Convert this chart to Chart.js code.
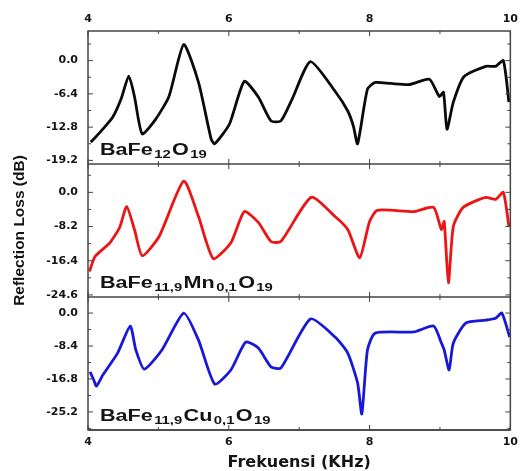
<!DOCTYPE html>
<html>
<head>
<meta charset="utf-8">
<script src="https://cdn.jsdelivr.net/npm/chart.js@4.4.1/dist/chart.umd.min.js"></script>
<style>
  html, body { margin: 0; padding: 0; background: #fff; }
  #wrap { position: relative; width: 524px; height: 471px; }
</style>
</head>
<body>
<div id="wrap"><canvas id="rlChart"></canvas></div>
<script>
// ====== Data ======
const freqTicks = [4, 6, 8, 10];

// BaFe12O19 (black, top panel)
const freqBa = [4.04, 4.17, 4.35, 4.47, 4.58, 4.66, 4.77, 4.96, 5.15, 5.36, 5.57, 5.75, 5.80, 6.01, 6.22, 6.42,
                6.60, 6.74, 6.90, 7.16, 7.51, 7.69, 7.77, 7.83, 7.97, 8.08, 8.30, 8.57, 8.85, 8.99, 9.05, 9.10,
                9.19, 9.34, 9.65, 9.79, 9.90, 9.98];
const rlBa = [-15.7, -13.8, -10.9, -7.4, -3.0, -6.9, -14.1, -11.3, -6.9, 3.1, -4.2, -15.1, -16.0, -12.2, -4.0, -7.0,
              -11.6, -11.6, -7.4, -0.2, -5.9, -9.7, -12.6, -16.0, -5.5, -4.2, -4.4, -4.6, -3.6, -6.9, -6.1, -13.2,
              -8.0, -3.1, -1.1, -1.1, 0.0, -8.0];
const rlTicksBa = [0.0, -6.4, -12.8, -19.2];

// BaFe11,9Mn0,1O19 (red, middle panel)
const freqMn = [4.02, 4.10, 4.31, 4.45, 4.55, 4.66, 4.77, 5.01, 5.36, 5.57, 5.78, 6.03, 6.22, 6.42, 6.60, 6.74,
                7.17, 7.51, 7.69, 7.86, 8.00, 8.11, 8.63, 8.91, 9.02, 9.06, 9.12, 9.19, 9.33, 9.65, 9.79, 9.90, 9.98];
const rlMn = [-19.0, -15.4, -12.1, -8.4, -3.4, -8.9, -15.2, -10.6, 2.7, -5.8, -15.9, -12.1, -4.6, -7.2, -11.8, -11.8,
              -1.2, -5.8, -8.9, -15.7, -7.0, -4.3, -4.6, -3.6, -8.9, -7.0, -21.7, -8.2, -3.6, -1.2, -1.7, 0.0, -8.2];
const rlTicksMn = [0.0, -8.2, -16.4, -24.6];

// BaFe11,9Cu0,1O19 (blue, bottom panel)
const freqCu = [4.03, 4.08, 4.12, 4.21, 4.42, 4.60, 4.68, 4.80, 5.05, 5.36, 5.57, 5.80, 6.03, 6.24, 6.42, 6.60,
                6.74, 7.16, 7.51, 7.69, 7.83, 7.89, 7.97, 8.08, 8.63, 8.91, 9.02, 9.06, 9.13, 9.19, 9.37, 9.65,
                9.79, 9.88, 9.99];
const rlCu = [-15.0, -17.0, -18.6, -15.8, -10.2, -3.3, -9.4, -14.3, -9.4, 0.0, -6.9, -18.1, -14.5, -7.4, -8.9, -13.7,
              -14.0, -1.5, -6.1, -10.2, -17.8, -25.7, -9.4, -5.1, -4.8, -3.3, -7.6, -9.4, -14.5, -7.6, -2.5, -1.8,
              -1.3, 0.0, -6.1];
const rlTicksCu = [0.0, -8.4, -16.8, -25.2];

// sample labels: [text, isSubscript]
const labelBa = [['BaFe', 0], ['12', 1], ['O', 0], ['19', 1]];
const labelMn = [['BaFe', 0], ['11,9', 1], ['Mn', 0], ['0,1', 1], ['O', 0], ['19', 1]];
const labelCu = [['BaFe', 0], ['11,9', 1], ['Cu', 0], ['0,1', 1], ['O', 0], ['19', 1]];

const panels = [
    { axis: 'yBa', ticks: rlTicksBa, label: labelBa },
    { axis: 'yMn', ticks: rlTicksMn, label: labelMn },
    { axis: 'yCu', ticks: rlTicksCu, label: labelCu }
];

const TXT = '#141414';
const FRAME = '#444';
const tickFont = { family: '"DejaVu Sans", sans-serif', size: 11, weight: 'bold' };

function toPoints(xs, ys) {
    return xs.map((x, i) => ({ x, y: ys[i] }));
}

// ====== Frame, inward ticks and sample labels ======
function drawFormula(ctx, parts, x, y) {
    ctx.save();
    ctx.translate(x, y);
    ctx.scale(1.35, 1);
    ctx.fillStyle = TXT;
    ctx.textBaseline = 'alphabetic';
    let cx = 0;
    parts.forEach(([txt, sub]) => {
        ctx.font = sub ? 'bold 11px "Liberation Sans", Arial, sans-serif'
                       : 'bold 16px "Liberation Sans", Arial, sans-serif';
        ctx.fillText(txt, cx, sub ? 3 : 0);
        cx += ctx.measureText(txt).width + 1;
    });
    ctx.restore();
}

const frameTicks = {
    id: 'frameTicks',
    afterDraw(chart) {
        const ctx = chart.ctx;
        const area = chart.chartArea;
        const xs = chart.scales.x;
        ctx.save();
        ctx.strokeStyle = FRAME;
        ctx.lineWidth = 1.5;
        ctx.strokeRect(area.left, area.top, area.right - area.left, area.bottom - area.top);

        panels.forEach(p => {
            const ys = chart.scales[p.axis];
            ctx.lineWidth = 1.5;
            ctx.beginPath();
            ctx.moveTo(area.left, ys.bottom);
            ctx.lineTo(area.right, ys.bottom);
            ctx.stroke();

            ctx.lineWidth = 1;
            // y ticks, left and right, major + half-step minor
            const step = p.ticks[0] - p.ticks[1];
            for (let k = -1; k < p.ticks.length * 2; k++) {
                const v = p.ticks[0] - k * step / 2;
                const py = ys.getPixelForValue(v);
                if (py < ys.top + 1 || py > ys.bottom - 1) continue;
                const len = k % 2 === 0 ? 5 : 3;
                ctx.beginPath();
                ctx.moveTo(area.left, py); ctx.lineTo(area.left + len, py);
                ctx.moveTo(area.right, py); ctx.lineTo(area.right - len, py);
                ctx.stroke();
            }
            // x ticks at top and bottom of every panel
            for (let v = freqTicks[0]; v <= freqTicks[freqTicks.length - 1]; v += 1) {
                const px = xs.getPixelForValue(v);
                const len = v % 2 === 0 ? 5 : 3;
                ctx.beginPath();
                ctx.moveTo(px, ys.top); ctx.lineTo(px, ys.top + len);
                ctx.moveTo(px, ys.bottom); ctx.lineTo(px, ys.bottom - len);
                ctx.stroke();
            }

            drawFormula(ctx, p.label, area.left + 12, ys.bottom - 9);
        });
        ctx.restore();
    }
};

// ====== Chart ======
function yAxis(ticks, min, max, weight, extra) {
    return Object.assign({
        type: 'linear',
        position: 'left',
        stack: 'rl',
        stackWeight: 1,
        weight,
        min,
        max,
        afterBuildTicks: s => { s.ticks = ticks.map(v => ({ value: v })); },
        afterFit: s => { s.width = 88; },
        grid: { display: false, drawTicks: false },
        border: { display: false },
        ticks: { font: tickFont, color: TXT, padding: 10, callback: v => v.toFixed(1) }
    }, extra || {});
}

const ctx = document.getElementById('rlChart').getContext('2d');
new Chart(ctx, {
    type: 'line',
    data: {
        datasets: [
            { data: toPoints(freqBa, rlBa), yAxisID: 'yBa', borderColor: '#0b0b0b' },
            { data: toPoints(freqMn, rlMn), yAxisID: 'yMn', borderColor: '#ec1515' },
            { data: toPoints(freqCu, rlCu), yAxisID: 'yCu', borderColor: '#1818d8' }
        ]
    },
    options: {
        responsive: true,
        maintainAspectRatio: false,
        animation: false,
        layout: { padding: { top: 0, right: 7, bottom: 0, left: 0 } },
        elements: {
            line: { borderWidth: 2.8, tension: 0.2, fill: false, capBezierPoints: true },
            point: { radius: 0 }
        },
        plugins: { legend: { display: false }, tooltip: { enabled: false } },
        scales: {
            x: {
                type: 'linear',
                position: 'bottom',
                min: 4,
                max: 10,
                afterBuildTicks: s => { s.ticks = freqTicks.map(v => ({ value: v })); },
                afterFit: s => { s.height = 41; },
                grid: { display: false, drawTicks: false },
                border: { display: false },
                ticks: { font: tickFont, color: TXT, padding: 6 },
                title: {
                    display: true,
                    text: 'Frekuensi (KHz)',
                    color: TXT,
                    font: { family: '"DejaVu Sans", sans-serif', size: 16, weight: 'bold', lineHeight: 1 },
                    padding: { top: 0, bottom: 0 }
                }
            },
            xTop: {
                type: 'linear',
                position: 'top',
                min: 4,
                max: 10,
                afterBuildTicks: s => { s.ticks = freqTicks.map(v => ({ value: v })); },
                afterFit: s => { s.height = 31; },
                grid: { display: false, drawTicks: false },
                border: { display: false },
                ticks: { font: tickFont, color: TXT, padding: 5 }
            },
            yBa: yAxis(rlTicksBa, -19.9, 5.7, 3),
            yMn: yAxis(rlTicksMn, -25.1, 6.8, 2, {
                title: {
                    display: true,
                    text: 'Reflection Loss (dB)',
                    color: TXT,
                    font: { family: '"Liberation Sans Narrow", "Liberation Sans", sans-serif', size: 15.5, weight: 'bold', lineHeight: 1 },
                    padding: { top: 12, bottom: 0 }
                }
            }),
            yCu: yAxis(rlTicksCu, -29.8, 4.1, 1)
        }
    },
    plugins: [frameTicks]
});
</script>
</body>
</html>
